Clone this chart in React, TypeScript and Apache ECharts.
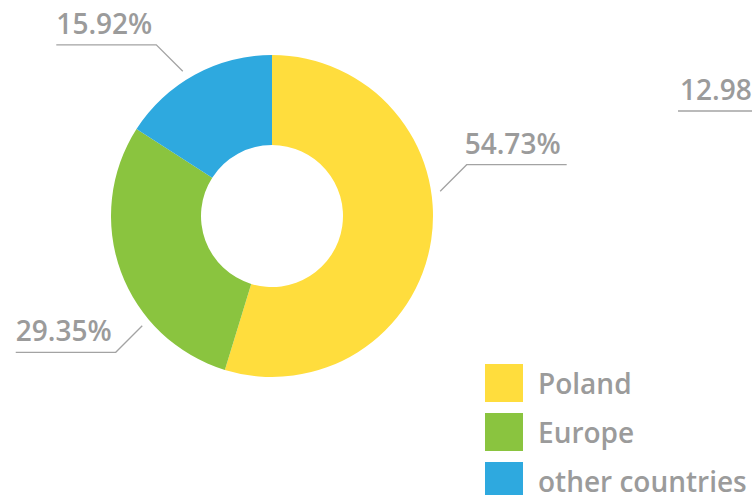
import React, { useEffect, useRef } from "react";
import * as echarts from "echarts";

// ---- data ----
const categories = ["Poland", "Europe", "other countries"];
const shares = [54.73, 29.35, 15.92];
const colors = ["#FFDD3D", "#8AC43F", "#2EA9DF"];
// label of the neighbouring (cropped) chart, visible at the right edge
const neighbourLabels = ["12.98%"];

// ---- layout constants (not data) ----
const CX = 272;
const CY = 216;
const R_IN = 71;
const R_OUT = 161;
const ANCHOR_R = 170;
const DIAG = 26.5;
const HLEN = 100;
// counter-clockwise shift (deg) of each label anchor from the slice mid-angle
const labelAngleShift = [16.9, 20.1, 3.0];

const TEXT = "#9B9B9B";
const LINE = "#A3A3A3";
const FONT = "Open Sans";

export default function App() {
  const ref = useRef<HTMLDivElement>(null);

  useEffect(() => {
    if (!ref.current) return;
    const chart = echarts.init(ref.current, null, { renderer: "svg" });

    const data = categories.map((name, i) => ({
      name,
      value: shares[i],
      itemStyle: { color: colors[i] },
    }));

    chart.setOption({
      animation: false,
      backgroundColor: "#ffffff",
      legend: {
        orient: "vertical",
        left: 485,
        top: 364,
        width: 300,
        height: 200,
        padding: 0,
        itemWidth: 38,
        itemHeight: 38,
        itemGap: 11,
        icon: "rect",
        selectedMode: false,
        data: categories,
        textStyle: {
          color: TEXT,
          fontSize: 28,
          fontWeight: 600,
          fontFamily: FONT,
          padding: [0, 0, 0, 10],
        },
      },
      graphic: [
        {
          type: "text",
          x: 680,
          y: 89,
          style: {
            text: neighbourLabels[0],
            fill: TEXT,
            font: `600 28px "${FONT}"`,
            verticalAlign: "middle",
            align: "left",
          },
        },
        {
          type: "line",
          shape: { x1: 678, y1: 111, x2: 760, y2: 111 },
          style: { stroke: LINE, lineWidth: 1.3 },
        },
      ],
      series: [
        {
          type: "pie",
          center: [CX, CY],
          radius: [R_IN, R_OUT],
          startAngle: 90,
          clockwise: true,
          avoidLabelOverlap: false,
          data,
          label: {
            show: true,
            position: "outside",
            formatter: (p: any) => `${Number(p.value).toFixed(2)}%`,
            color: TEXT,
            fontSize: 28,
            fontWeight: 600,
            fontFamily: FONT,
          },
          labelLine: {
            show: true,
            length: 20,
            length2: HLEN,
            lineStyle: { color: LINE, width: 1.3 },
          },
          labelLayout: (p: any) => {
            const pts = p.labelLinePoints;
            if (!pts) return {};
            const [sx, sy] = pts[0];
            const mid = Math.atan2(sy - CY, sx - CX);
            const a = mid - (labelAngleShift[p.dataIndex] * Math.PI) / 180;
            const ax = CX + ANCHOR_R * Math.cos(a);
            const ay = CY + ANCHOR_R * Math.sin(a);
            const hx = Math.cos(a) < 0 ? -1 : 1;
            const vy = Math.sin(a) < 0 ? -1 : 1;
            const ex = ax + hx * DIAG;
            const ey = ay + vy * DIAG;
            const tx = ex + hx * HLEN;
            return {
              labelLinePoints: [
                [ax, ay],
                [ex, ey],
                [tx, ey],
              ],
              x: hx > 0 ? ex - 2 : ex - 4,
              y: ey - 22,
              align: hx > 0 ? "left" : "right",
              verticalAlign: "middle",
            };
          },
          emphasis: { disabled: true },
        },
      ],
    });

    return () => chart.dispose();
  }, []);

  return (
    <div
      ref={ref}
      style={{ position: "absolute", left: 0, top: 0, width: 752, height: 495 }}
    />
  );
}
